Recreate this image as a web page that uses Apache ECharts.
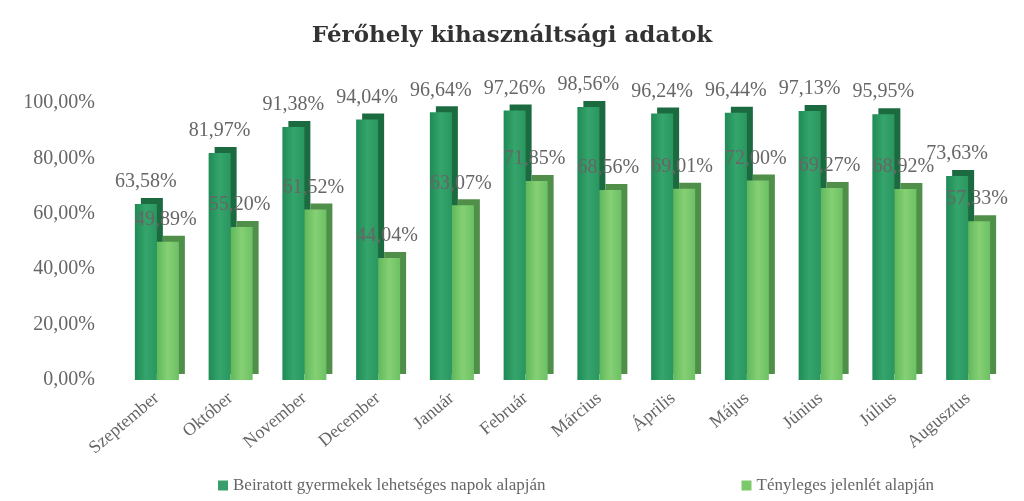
<!DOCTYPE html>
<html><head><meta charset="utf-8">
<script src="https://cdn.jsdelivr.net/npm/echarts@6/dist/echarts.min.js"></script>
<style>html,body{margin:0;padding:0;background:#fff}#c{width:1024px;height:501px}</style>
</head><body><div id="c"></div>
<script>
const categories = ['Szeptember','Október','November','December','Január','Február','Március','Április','Május','Június','Július','Augusztus'];
const enrolled = [63.58, 81.97, 91.38, 94.04, 96.64, 97.26, 98.56, 96.24, 96.44, 97.13, 95.95, 73.63];
const actual = [49.89, 55.20, 61.52, 44.04, 63.07, 71.85, 68.56, 69.01, 72.00, 69.27, 68.92, 57.33];
const seriesNames = ['Beiratott gyermekek lehetséges napok alapján', 'Tényleges jelenlét alapján'];
const yTicks = [0, 20, 40, 60, 80, 100];

const FONT = '"Liberation Serif", "DejaVu Serif", serif';
const fmt = v => v.toFixed(2).replace('.', ',') + '%';
const chart = echarts.init(document.getElementById('c'));
chart.setOption({
  animation: false,
  title: { text: 'Férőhely kihasználtsági adatok', left: 'center', top: 20,
    textStyle: { fontFamily: '"DejaVu Serif", serif', fontSize: 23, fontWeight: 'bold', color: '#333' } },
  grid: { left: 120, right: 19, top: 103, bottom: 121 },
  legend: { bottom: 2, left: 213, itemGap: 196, itemWidth: 10, itemHeight: 10, icon: 'rect',
    textStyle: { fontFamily: FONT, fontSize: 17, color: '#666' },
    data: [{name: seriesNames[0], itemStyle: {color: '#3a9e6a'}}, {name: seriesNames[1], itemStyle: {color: '#7cc96a'}}] },
  xAxis: { type: 'category', data: categories,
    axisLine: { show: false }, axisTick: { show: false },
    axisLabel: { rotate: 40, fontFamily: FONT, fontSize: 18, color: '#666', margin: 16, interval: 0 } },
  yAxis: { type: 'value', min: 0, max: 100, interval: 20,
    splitLine: { show: false }, axisLine: { show: false }, axisTick: { show: false },
    axisLabel: { fontFamily: FONT, fontSize: 20, color: '#666', margin: 25,
      formatter: v => yTicks.includes(v) ? fmt(v) : '' } },
  series: [
    { name: seriesNames[0], type: 'bar', data: enrolled, barWidth: 22, barGap: '0%',
      itemStyle: { color: { type: 'linear', x: 0, y: 0, x2: 1, y2: 0, colorStops: [
        {offset: 0, color: '#1f8a55'}, {offset: 0.5, color: '#35a56c'}, {offset: 1, color: '#2a9660'}] },
        shadowColor: '#1c6b40', shadowOffsetX: 6, shadowOffsetY: -6, shadowBlur: 0 },
      label: { show: true, position: 'top', distance: 12, formatter: p => fmt(p.value),
        fontFamily: FONT, fontSize: 20, color: '#666' } },
    { name: seriesNames[1], type: 'bar', data: actual, barWidth: 22,
      itemStyle: { color: { type: 'linear', x: 0, y: 0, x2: 1, y2: 0, colorStops: [
        {offset: 0, color: '#5fb85c'}, {offset: 0.5, color: '#86d074'}, {offset: 1, color: '#6cc064'}] },
        shadowColor: '#4f8f4a', shadowOffsetX: 6, shadowOffsetY: -6, shadowBlur: 0 },
      label: { show: true, position: 'top', distance: 12, offset: [-2, 0], formatter: p => fmt(p.value),
        fontFamily: FONT, fontSize: 20, color: '#666' } }
  ]
});
</script></body></html>
